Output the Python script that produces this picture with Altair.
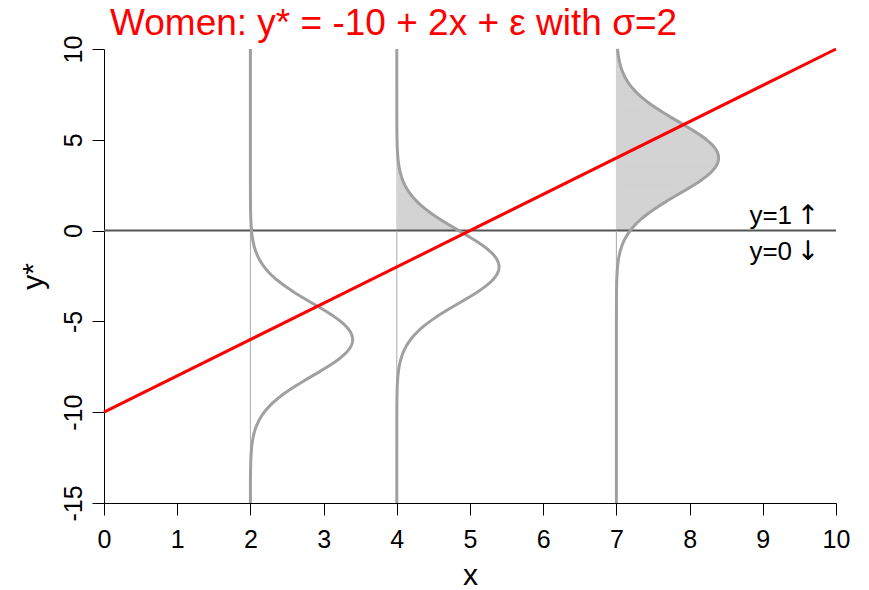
import altair as alt
import numpy as np
import pandas as pd

# Latent-variable model: y* = a + b*x + e, e ~ N(0, sigma^2)
intercept = -10.0
slope = 2.0
sigma = 2.0
x_points = [2, 4, 7]          # where the error densities are drawn
dens_scale = 7.0              # horizontal stretch of the sideways densities
x_range = [0, 10]
y_range = [-15, 10]
x_ticks = list(range(0, 11))
y_ticks = [-15, -10, -5, 0, 5, 10]
title_text = "Women: y* = -10 + 2x + \u03b5 with \u03c3=2"

GRAY = "#a0a0a0"
FILL = "#d3d3d3"
FONT = "Liberation Sans"

# sideways normal densities centred on the regression line
y_grid = np.linspace(y_range[0], y_range[1], 601)
step = y_grid[1] - y_grid[0]
rows = []
for x0 in x_points:
    mu = intercept + slope * x0
    dens = np.exp(-0.5 * ((y_grid - mu) / sigma) ** 2) / (sigma * np.sqrt(2 * np.pi))
    for i, (yv, dv) in enumerate(zip(y_grid, dens)):
        rows.append({"grp": x0, "idx": i, "y": yv, "y_next": yv + step,
                     "xc": x0 + dens_scale * dv, "x0": x0})
curves = pd.DataFrame(rows)
# P(y* > 0) region: thin slices between the baseline and the density curve
shaded = curves[(curves["y"] >= 0) & (curves["y_next"] <= y_range[1] + 1e-9)]

reg_line = pd.DataFrame({"x": x_range, "y": [intercept + slope * v for v in x_range]})
zero_line = pd.DataFrame({"x": [x_range[0]], "x2": [x_range[1]], "y": [0]})
stems = pd.DataFrame({"x": x_points, "y": [y_range[0]] * 3, "y2": [0] * 3})
note_text = pd.DataFrame({"x": [9.40, 9.40], "y": [0.36, -1.62], "t": ["y=1", "y=0"]})
note_arrow = pd.DataFrame({"x": [9.62, 9.62], "y": [0.36, -1.62], "t": ["\u2191", "\u2193"]})

xs = alt.Scale(domain=x_range, nice=False, zero=False)
ys = alt.Scale(domain=y_range, nice=False, zero=False)

common_axis = dict(grid=False, labelFontSize=25, titleFontSize=30,
                   titleFontWeight="normal", tickSize=12, domainColor="black",
                   tickColor="black", labelColor="black", titleColor="black",
                   labelFont=FONT, titleFont=FONT, labelFlush=False,
                   labelExpr="'' + datum.value", titleBaseline="alphabetic")

x_axis = alt.Axis(values=x_ticks, title="x", labelPadding=12,
                  titleY=81, **common_axis)
y_axis = alt.Axis(values=y_ticks, title="y*", labelAngle=-90, labelAlign="center",
                  labelBaseline="bottom", labelPadding=6, titleX=-62,
                  **common_axis)

fill = alt.Chart(shaded).mark_rect(color=FILL, stroke=FILL, strokeWidth=1).encode(
    y=alt.Y("y:Q", scale=ys, axis=y_axis),
    y2="y_next:Q",
    x=alt.X("x0:Q", scale=xs, axis=x_axis),
    x2="xc:Q",
)

hline = alt.Chart(zero_line).mark_rule(color="#555555", strokeWidth=2).encode(
    x=alt.X("x:Q", scale=xs), x2="x2:Q", y=alt.Y("y:Q", scale=ys)
)

stem = alt.Chart(stems).mark_rule(color="#aaaaaa", strokeWidth=1).encode(
    x=alt.X("x:Q", scale=xs), y=alt.Y("y:Q", scale=ys), y2="y2:Q"
)

dens_lines = alt.Chart(curves).mark_line(color=GRAY, strokeWidth=3).encode(
    x=alt.X("xc:Q", scale=xs),
    y=alt.Y("y:Q", scale=ys),
    detail="grp:N",
    order="idx:Q",
)

red = alt.Chart(reg_line).mark_line(color="red", strokeWidth=3).encode(
    x=alt.X("x:Q", scale=xs), y=alt.Y("y:Q", scale=ys)
)

labels = alt.Chart(note_text).mark_text(align="right", baseline="alphabetic",
                                        fontSize=26, font=FONT, color="black").encode(
    x=alt.X("x:Q", scale=xs), y=alt.Y("y:Q", scale=ys), text="t:N"
)

arrows = alt.Chart(note_arrow).mark_text(align="center", baseline="alphabetic",
                                         fontSize=27, font="DejaVu Sans",
                                         color="black").encode(
    x=alt.X("x:Q", scale=xs), y=alt.Y("y:Q", scale=ys), text="t:N"
)

heading = alt.Chart(pd.DataFrame({"t": [title_text]})).mark_text(
    align="left", baseline="alphabetic", fontSize=37, font=FONT, color="red"
).encode(x=alt.value(6), y=alt.value(-14), text="t:N")

chart = alt.layer(fill, hline, stem, dens_lines, red, labels, arrows, heading).properties(
    width=732,
    height=454,
    background="white",
    autosize=alt.AutoSizeParams(type="none"),
    padding={"left": 104, "top": 49, "right": 33, "bottom": 87},
).configure_view(stroke=None)

chart.save("out.html", embed_options={"renderer": "svg", "actions": False})
